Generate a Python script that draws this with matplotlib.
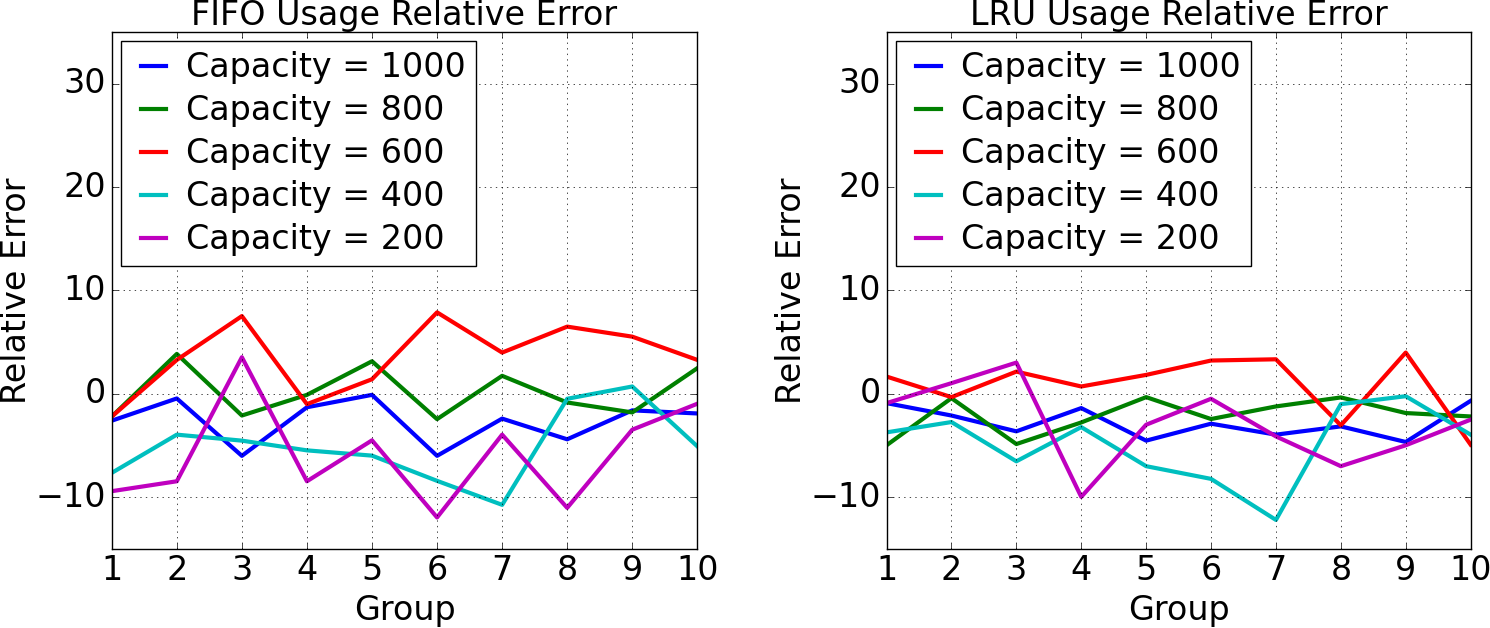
import numpy as np
import matplotlib
matplotlib.use("Agg")
import matplotlib.pyplot as plt

plt.style.use("classic")

groups = np.arange(1, 11)
capacities = [1000, 800, 600, 400, 200]
colors = ["b", "g", "r", "c", "m"]

# FIFO relative error per capacity
fifo_1000 = [-2.6, -0.45, -6.0, -1.3, -0.1, -6.0, -2.4, -4.4, -1.6, -1.9]
fifo_800 = [-2.2, 3.86, -2.1, -0.1, 3.15, -2.45, 1.74, -0.84, -1.8, 2.48]
fifo_600 = [-2.2, 3.28, 7.52, -1.0, 1.41, 7.88, 3.99, 6.5, 5.53, 3.28]
fifo_400 = [-7.65, -3.95, -4.53, -5.47, -5.98, -8.42, -10.74, -0.48, 0.71, -5.08]
fifo_200 = [-9.42, -8.46, 3.54, -8.46, -4.5, -11.96, -3.95, -11.03, -3.47, -0.96]

# LRU relative error per capacity
lru_1000 = [-0.9, -2.1, -3.63, -1.38, -4.53, -2.89, -3.95, -3.15, -4.66, -0.68]
lru_800 = [-4.98, -0.42, -4.86, -2.77, -0.32, -2.44, -1.22, -0.35, -1.86, -2.19]
lru_600 = [1.67, -0.32, 2.15, 0.71, 1.83, 3.22, 3.34, -3.05, 3.99, -4.92]
lru_400 = [-3.73, -2.73, -6.53, -3.22, -7.0, -8.23, -12.2, -1.0, -0.23, -3.95]
lru_200 = [-0.9, 1.03, 3.02, -9.97, -2.99, -0.48, -4.12, -7.0, -4.98, -2.5]

fifo = [fifo_1000, fifo_800, fifo_600, fifo_400, fifo_200]
lru = [lru_1000, lru_800, lru_600, lru_400, lru_200]

fs = 24
fig = plt.figure(figsize=(14.9, 6.28), dpi=100, facecolor="white")
ax1 = fig.add_axes([0.075, 0.126, 0.393, 0.823])
ax2 = fig.add_axes([0.595, 0.126, 0.392, 0.823])

for ax, data, title in [(ax1, fifo, "FIFO Usage Relative Error"),
                        (ax2, lru, "LRU Usage Relative Error")]:
    for cap, col, vals in zip(capacities, colors, data):
        ax.plot(groups, vals, color=col, linewidth=3,
                label="Capacity = %d" % cap)
    ax.set_xlim(1, 10)
    ax.set_ylim(-15, 35)
    ax.set_xticks(groups)
    ax.set_yticks([-10, 0, 10, 20, 30])
    ax.tick_params(labelsize=fs)
    ax.grid(True)
    ax.set_title(title, fontsize=fs, y=1.0)
    ax.set_xlabel("Group", fontsize=fs)
    ax.set_ylabel("Relative Error", fontsize=fs, labelpad=2)
    ax.legend(loc="upper left", fontsize=fs, handlelength=1.35,
              handletextpad=0.3, labelspacing=0.3,
              borderaxespad=0.28, borderpad=0.3)

fig.savefig("out.png", dpi=100, facecolor="white")
